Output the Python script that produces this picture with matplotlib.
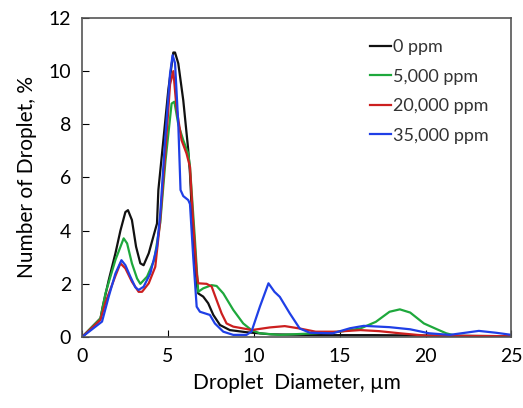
"""
Droplet size distribution for several concentrations.
"""

import matplotlib
matplotlib.use("Agg")
import matplotlib.pyplot as plt

# droplet diameter (um) and number of droplets (%)
x_0 = [0, 1.07, 1.2, 1.55, 1.94, 2.23, 2.52, 2.67, 2.9, 3.14, 3.39, 3.58, 3.88, 4.17, 4.36, 4.44,
       4.73, 5.02, 5.31, 5.41, 5.6, 5.89, 6.18, 6.28, 6.47, 6.67, 6.76, 7.05, 7.34, 7.64, 8.03,
       8.6, 9.57, 11, 14, 17, 21, 25]
y_0 = [0, 0.7, 1.14, 2.14, 3.15, 4.0, 4.7, 4.77, 4.4, 3.4, 2.77, 2.7, 3.15, 3.83, 4.27, 5.53,
       7.4, 9.3, 10.7, 10.7, 10.29, 8.9, 7.03, 6.15, 3.65, 2.02, 1.64, 1.52, 1.27, 0.83, 0.45,
       0.26, 0.18, 0.1, 0.07, 0.07, 0.05, 0.03]

x_5k = [0, 1.07, 1.36, 1.94, 2.42, 2.62, 2.9, 3.2, 3.39, 3.78, 4.2, 4.55, 4.85, 5.21, 5.37, 5.6,
        5.89, 6.18, 6.28, 6.57, 6.76, 7.05, 7.54, 7.83, 8.22, 8.8, 9.38, 9.86, 10.35, 11.5, 13.6,
        15, 16.2, 17.1, 17.9, 18.5, 19.1, 19.9, 20.7, 21.2, 21.8, 25]
y_5k = [0, 0.7, 1.64, 2.9, 3.71, 3.52, 2.77, 2.2, 2.0, 2.27, 2.9, 4.3, 6.6, 8.78, 8.85, 8.0,
        7.4, 6.9, 6.4, 3.65, 1.7, 1.83, 1.95, 1.92, 1.64, 1.02, 0.51, 0.26, 0.14, 0.08, 0.14,
        0.2, 0.32, 0.57, 0.95, 1.04, 0.92, 0.51, 0.28, 0.14, 0.04, 0.02]

x_20k = [0, 1.07, 1.36, 1.94, 2.23, 2.52, 2.9, 3.29, 3.49, 3.88, 4.26, 4.53, 4.83, 5.12, 5.31,
         5.5, 5.79, 6.08, 6.28, 6.47, 6.67, 6.76, 7.25, 7.54, 7.83, 8.12, 8.41, 8.8, 9.57, 9.86,
         10.93, 11.8, 12.67, 13.6, 14.8, 16.2, 17.3, 18.5, 20.0, 25]
y_20k = [0, 0.65, 1.3, 2.3, 2.77, 2.58, 2.08, 1.7, 1.7, 2.02, 2.64, 4.27, 6.8, 9.5, 10.0,
         8.6, 7.4, 6.9, 6.4, 4.27, 2.4, 2.02, 2.0, 1.9, 1.39, 0.89, 0.51, 0.39, 0.3, 0.26,
         0.36, 0.41, 0.32, 0.2, 0.2, 0.26, 0.22, 0.14, 0.05, 0.03]

x_35k = [0, 1.16, 1.55, 1.94, 2.29, 2.52, 2.81, 3.1, 3.29, 3.58, 3.97, 4.36, 4.55, 4.83, 5.12,
         5.27, 5.41, 5.6, 5.73, 5.89, 6.18, 6.28, 6.47, 6.67, 6.86, 7.44, 7.73, 8.22, 8.8, 9.57,
         9.86, 10.35, 10.85, 11.2, 11.51, 12.09, 12.67, 13.26, 14.6, 15.6, 16.4, 17.9, 19.1,
         20.2, 21.4, 23.1, 24.1, 25]
y_35k = [0, 0.58, 1.52, 2.39, 2.89, 2.7, 2.27, 1.87, 1.77, 1.89, 2.39, 3.4, 4.65, 7.4, 9.9,
         10.6, 10.3, 8.0, 5.53, 5.3, 5.15, 5.0, 3.0, 1.14, 0.95, 0.83, 0.51, 0.2, 0.08, 0.08,
         0.2, 1.14, 2.02, 1.7, 1.51, 0.89, 0.32, 0.16, 0.14, 0.33, 0.42, 0.37, 0.29,
         0.14, 0.08, 0.23, 0.16, 0.08]

labels = ["0 ppm", "5,000 ppm", "20,000 ppm", "35,000 ppm"]
colors = ["#111111", "#1ea83c", "#cc1f1f", "#1f3fe6"]
x_ticks = [0, 5, 10, 15, 20, 25]
y_ticks = [0, 2, 4, 6, 8, 10, 12]

plt.rcParams["font.family"] = ["Lato", "DejaVu Sans"]

fig = plt.figure(figsize=(5.23, 4.08), dpi=100)
ax = fig.add_axes([0.157, 0.174, 0.821, 0.782])

series = [(x_0, y_0), (x_5k, y_5k), (x_20k, y_20k), (x_35k, y_35k)]
for (xs, ys), lab, col in zip(series, labels, colors):
    ax.plot(xs, ys, color=col, lw=1.6, label=lab, solid_joinstyle="round")

ax.set_xlim(0, 25)
ax.set_ylim(0, 12)
ax.set_xticks(x_ticks)
ax.set_yticks(y_ticks)
ax.tick_params(direction="in", length=5, labelsize=14, pad=8)
for s in ax.spines.values():
    s.set_color("#555555")
    s.set_linewidth(1.2)

ax.set_xlabel("Droplet  Diameter, µm", fontsize=15, labelpad=6)
ax.set_ylabel("Number of Droplet, %", fontsize=15, labelpad=8)

ax.legend(loc="upper right", bbox_to_anchor=(0.985, 0.985), frameon=False,
          fontsize=13, handlelength=1.2, handletextpad=0.1, labelspacing=0.75,
          labelcolor="#333333")

fig.savefig("out.png", dpi=100)
